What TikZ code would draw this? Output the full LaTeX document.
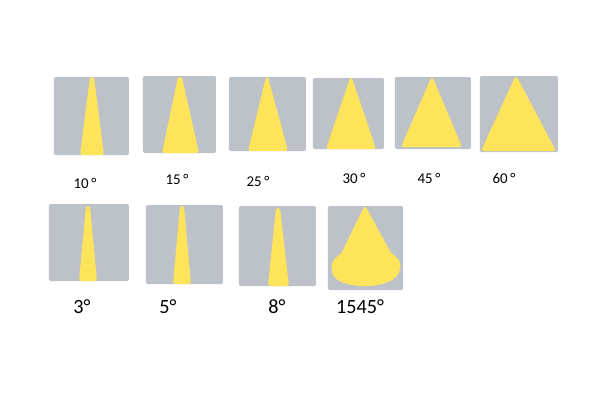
\documentclass[tikz,border=0pt]{standalone}
\usepackage{fontspec}
\setmainfont{Carlito}
\usetikzlibrary{calc}
\definecolor{boxgray}{RGB}{189,194,200}
\definecolor{beamyellow}{RGB}{254,228,90}

\begin{document}
\begin{tikzpicture}[x=0.02cm, y=-0.02cm,
    box/.style={fill=boxgray, rounded corners=0.8pt},
    beam/.style={fill=beamyellow, rounded corners=1.5pt},
    smalllbl/.style={font=\fontsize{8.5}{10}\selectfont},
    biglbl/.style={font=\fontsize{11.5}{13}\selectfont}]
      \useasboundingbox (0,0) rectangle (600,400);
      % 10 deg
      \fill[box] (54,77) rectangle (129,155);
      \fill[beam] (90,77) -- (94,77) -- (104,155) -- (80,155) -- cycle;
      \node[smalllbl] (a10) at (85,183) {10\,°};
      % 15 deg
      \fill[box] (143,76) rectangle (216,153);
      \fill[beam] (178,77) -- (182,77) -- (199,153) -- (162,153) -- cycle;
      \node[smalllbl] (a15) at (177,179) {15\,°};
      % 25 deg
      \fill[box] (229,77) rectangle (306,151);
      \fill[beam] (266,77) -- (268,77) -- (288,151) -- (248,151) -- cycle;
      \node[smalllbl] (a25) at (258,181) {25\,°};
      % 30 deg
      \fill[box] (313,78) rectangle (384,149);
      \fill[beam] (350,78) -- (352,78) -- (376,149) -- (326,149) -- cycle;
      \node[smalllbl] (a30) at (354,178) {30\,°};
      % 45 deg
      \fill[box] (395,77) rectangle (471,149);
      \fill[beam] (431,78) -- (433,78) -- (462,147) -- (401,147) -- cycle;
      \node[smalllbl] (a45) at (429,178) {45\,°};
      % 60 deg
      \fill[box] (480,76) rectangle (558,152);
      \fill[beam] (515,77) -- (517,77) -- (556,151) -- (481,151) -- cycle;
      \node[smalllbl] (a60) at (504,178) {60\,°};
      % 3 deg
      \fill[box] (49,204) rectangle (129,281);
      \fill[beam] (86,206) -- (90,206) -- (97,281) -- (79,281) -- cycle;
      \node[biglbl] (a3) at (82,307) {3°};
      % 5 deg
      \fill[box] (146,205) rectangle (223,284);
      \fill[beam] (180,206) -- (184,206) -- (191,284) -- (173,284) -- cycle;
      \node[biglbl] (a5) at (168,307) {5°};
      % 8 deg
      \fill[box] (239,206) rectangle (316,286);
      \fill[beam] (276,208) -- (280,208) -- (289,286) -- (268,286) -- cycle;
      \node[biglbl] (a8) at (277,307) {8°};
      % 1545 deg, cone with round foot
      \fill[box] (328,206) rectangle (403,290);
      \fill[beam] (364,207) -- (366,207) -- (391,253)
        .. controls (397,257) and (401,262) .. (400,268)
        .. controls (398,280) and (382,286) .. (365,286)
        .. controls (350,286) and (334,282) .. (332,270)
        .. controls (331,264) and (334,258) .. (341,254) -- cycle;
      \node[biglbl] (a1545) at (360,307) {1545°};
    \end{tikzpicture}
\end{document}
